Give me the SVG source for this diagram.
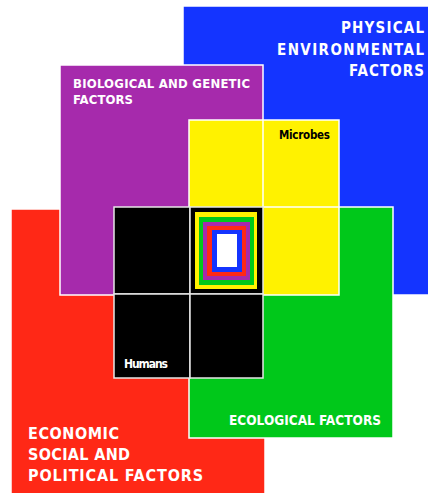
<svg xmlns="http://www.w3.org/2000/svg" width="428" height="493" viewBox="0 0 428 493">
  <style>
    .panel { stroke: #ffffff; stroke-width: 1.5; }
    .cell { fill: #000000; stroke: #e6e6e6; stroke-width: 1.5; }
    .rule { stroke: #ffffff; stroke-width: 1.5; }
    .label { font-family: "DejaVu Sans Condensed", "DejaVu Sans", sans-serif; font-stretch: condensed; font-weight: bold; fill: #ffffff; }
    .small { font-family: "DejaVu Sans Condensed", "DejaVu Sans", sans-serif; font-stretch: condensed; font-weight: bold; }
  </style>
  <rect width="428" height="493" fill="#ffffff"/>

  <!-- factor panels, back to front -->
  <g id="physical">
    <rect class="panel" x="183" y="6" width="250" height="289" fill="#1434ff"/>
    <text class="label" font-size="15" text-anchor="end" x="424" y="33" textLength="83" lengthAdjust="spacing">PHYSICAL</text>
    <text class="label" font-size="15" text-anchor="end" x="424" y="55" textLength="147" lengthAdjust="spacing">ENVIRONMENTAL</text>
    <text class="label" font-size="15" text-anchor="end" x="424" y="76" textLength="75" lengthAdjust="spacing">FACTORS</text>
  </g>

  <g id="economic">
    <rect class="panel" x="11" y="209" width="254" height="290" fill="#ff2816"/>
    <text class="label" font-size="16" x="28" y="439" textLength="91" lengthAdjust="spacing">ECONOMIC</text>
    <text class="label" font-size="16" x="28" y="460" textLength="102" lengthAdjust="spacing">SOCIAL AND</text>
    <text class="label" font-size="16" x="28" y="481" textLength="175" lengthAdjust="spacing">POLITICAL FACTORS</text>
  </g>

  <g id="biological">
    <rect class="panel" x="60" y="65" width="203" height="230" fill="#a62aac"/>
    <text class="label" font-size="13" x="73" y="88" textLength="177" lengthAdjust="spacing">BIOLOGICAL AND GENETIC</text>
    <text class="label" font-size="13" x="73" y="104" textLength="60" lengthAdjust="spacing">FACTORS</text>
  </g>

  <g id="ecological">
    <rect class="panel" x="189" y="207" width="204" height="231" fill="#00c81a"/>
    <text class="label" font-size="13.5" x="229" y="425" textLength="152" lengthAdjust="spacing">ECOLOGICAL FACTORS</text>
  </g>

  <g id="microbes">
    <rect class="panel" x="189" y="120" width="150" height="175" fill="#fff200"/>
    <line class="rule" x1="263" y1="120" x2="263" y2="207"/>
    <line class="rule" x1="263" y1="207" x2="339" y2="207"/>
    <text class="small" font-size="11.5" fill="#000000" x="279" y="139" textLength="51" lengthAdjust="spacing">Microbes</text>
  </g>

  <g id="humans">
    <rect class="cell" x="114" y="207" width="76" height="87"/>
    <rect class="cell" x="190" y="207" width="73" height="87"/>
    <rect class="cell" x="114" y="294" width="76" height="84"/>
    <rect class="cell" x="190" y="294" width="73" height="84"/>
    <text class="small" font-size="12" fill="#ffffff" x="124" y="368" textLength="44" lengthAdjust="spacing">Humans</text>
  </g>

  <!-- nested factors at the centre -->
  <g id="core">
    <rect x="195" y="212" width="62" height="77" fill="#fff200"/>
    <rect x="199" y="217" width="55" height="68" fill="#00c81a"/>
    <rect x="203" y="222" width="47" height="58" fill="#a62aac"/>
    <rect x="207" y="226" width="39" height="50" fill="#ff2816"/>
    <rect x="212" y="230" width="30" height="42" fill="#1434ff"/>
    <rect x="217" y="234" width="20" height="33" fill="#ffffff"/>
  </g>

  <g id="connectors"/>
</svg>
